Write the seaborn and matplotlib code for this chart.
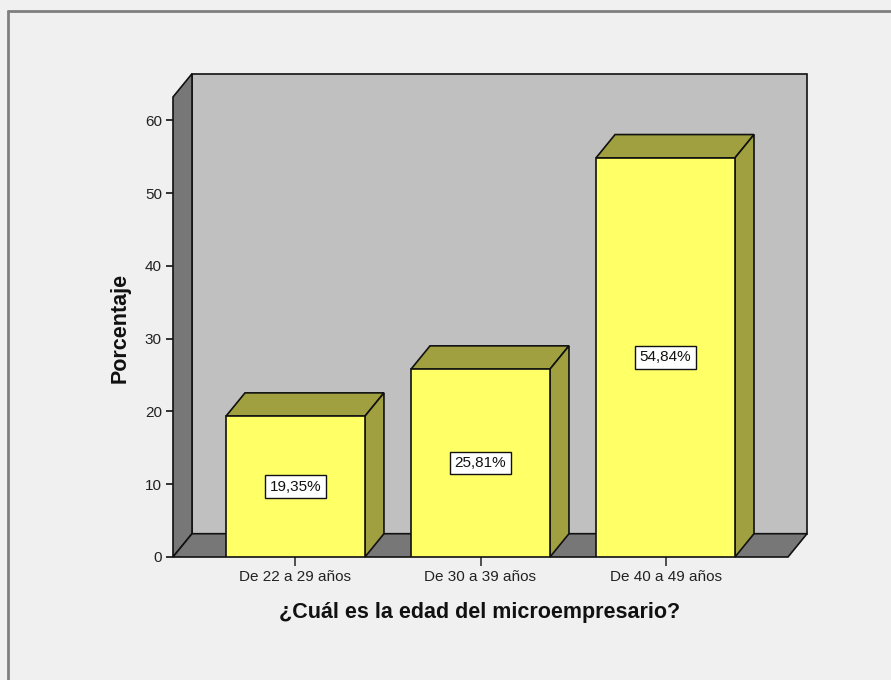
import matplotlib
matplotlib.use("Agg")
import matplotlib.pyplot as plt
from matplotlib.patches import Polygon
from matplotlib.lines import Line2D
import seaborn as sns

# Data
categories = ["De 22 a 29 años", "De 30 a 39 años", "De 40 a 49 años"]
percentages = [19.35, 25.81, 54.84]
y_ticks = [0, 10, 20, 30, 40, 50, 60]
x_title = "¿Cuál es la edad del microempresario?"
y_title = "Porcentaje"

# Colours
BG = "#F0F0F0"
BACK_WALL = "#C0C0C0"
SIDE_WALL = "#777777"
BAR_FRONT = "#FFFF66"
BAR_SHADE = "#A0A040"
EDGE = "#111111"

sns.set_theme(style="white")
plt.rcParams["font.family"] = ["Liberation Sans", "DejaVu Sans"]

W, H = 891, 680
fig = plt.figure(figsize=(W / 100, H / 100), dpi=100, facecolor=BG)
ax = fig.add_axes([173 / W, (H - 557) / H, 615 / W, 460 / H])
ax.patch.set_visible(False)

# Front faces of the bars
sns.barplot(x=categories, y=percentages, color=BAR_FRONT, saturation=1,
            width=0.751, edgecolor=EDGE, linewidth=1.2, ax=ax, zorder=3)

ax.set_xlim(-0.662, 2.662)
ax.set_ylim(0, 63.2)
ax.set_yticks(y_ticks)

# Depth of the pseudo-3D projection (data units)
DX, DY = 0.1027, 3.2
xmin, xmax = ax.get_xlim()
ymax = ax.get_ylim()[1]

wall_kw = dict(edgecolor=EDGE, linewidth=1.2, clip_on=False, joinstyle="miter")
# back wall
ax.add_patch(Polygon([(xmin + DX, DY), (xmax + DX, DY), (xmax + DX, ymax + DY),
                      (xmin + DX, ymax + DY)], closed=True, facecolor=BACK_WALL,
                     zorder=0.5, **wall_kw))
# left wall
ax.add_patch(Polygon([(xmin, 0), (xmin + DX, DY), (xmin + DX, ymax + DY),
                      (xmin, ymax)], closed=True, facecolor=SIDE_WALL,
                     zorder=0.6, **wall_kw))
# floor
ax.add_patch(Polygon([(xmin, 0), (xmax, 0), (xmax + DX, DY), (xmin + DX, DY)],
                     closed=True, facecolor=SIDE_WALL, zorder=0.7, **wall_kw))

# Top and side faces of each bar
for bar in list(ax.containers[0]):
    x0 = bar.get_x()
    x1 = x0 + bar.get_width()
    v = bar.get_height()
    ax.add_patch(Polygon([(x0, v), (x1, v), (x1 + DX, v + DY), (x0 + DX, v + DY)],
                         closed=True, facecolor=BAR_SHADE, zorder=2.5, **wall_kw))
    ax.add_patch(Polygon([(x1, 0), (x1 + DX, DY), (x1 + DX, v + DY), (x1, v)],
                         closed=True, facecolor=BAR_SHADE, zorder=2.5, **wall_kw))

# Value labels
labels = [f"{v:.2f}%".replace(".", ",") for v in percentages]
texts = ax.bar_label(ax.containers[0], labels=labels, label_type="center",
                     fontsize=11, color="#111111",
                     bbox=dict(boxstyle="square,pad=0.28", facecolor="white",
                               edgecolor=EDGE, linewidth=1.0))
for t in texts:
    t.set_zorder(5)

for s in ax.spines.values():
    s.set_visible(False)

ax.tick_params(axis="y", left=True, direction="out", length=5, width=1.2,
               color=EDGE, pad=3, labelsize=11, labelcolor="#222222")
ax.tick_params(axis="x", bottom=True, direction="out", length=6.5, width=1.2,
               color="#333333", pad=3, labelsize=11, labelcolor="#222222")

ax.set_xlabel(x_title, fontsize=15.5, fontweight="bold", color="#111111")
ax.set_ylabel(y_title, fontsize=15.5, fontweight="bold", color="#111111")
ax.xaxis.label.set_va("center")
ax.yaxis.label.set_va("center")
ax.xaxis.set_label_coords(0.499, -0.1196)
ax.yaxis.set_label_coords(-0.0862, 0.498)

# Frame around the chart area
fig.add_artist(Line2D([7.5 / W, 7.5 / W], [0, 1 - 11 / H], transform=fig.transFigure,
                      color="#7F7F7F", linewidth=2))
fig.add_artist(Line2D([7.5 / W, 1], [1 - 11 / H, 1 - 11 / H], transform=fig.transFigure,
                      color="#7F7F7F", linewidth=2))

fig.savefig("out.png", dpi=100, facecolor=BG)
